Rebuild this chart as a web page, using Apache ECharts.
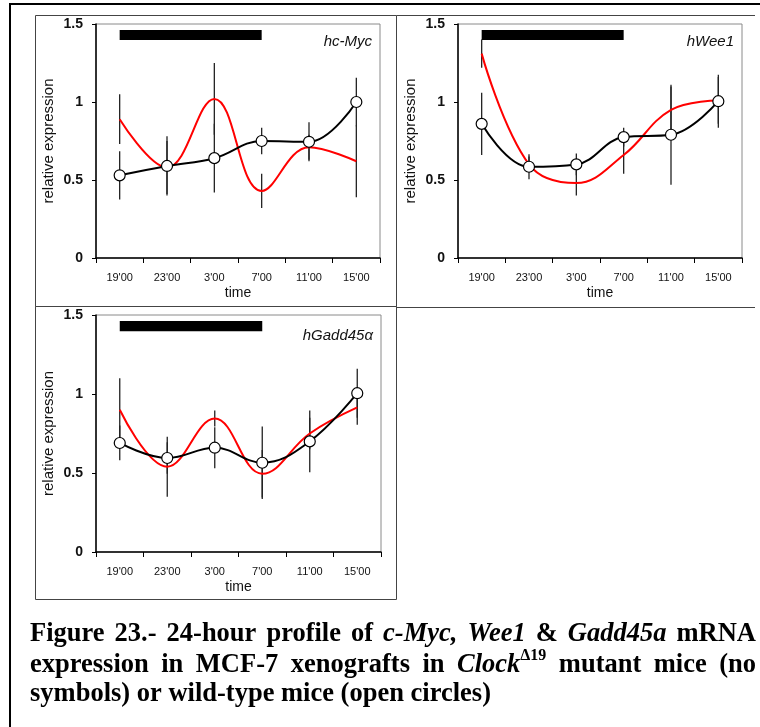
<!DOCTYPE html>
<html>
<head>
<meta charset="utf-8">
<script src="https://cdn.jsdelivr.net/npm/echarts@6/dist/echarts.min.js"></script>
<style>
html,body{margin:0;padding:0;background:#fff;}
#c{width:760px;height:727px;}
</style>
</head>
<body>
<div id="c"></div>
<script>
// ---------- data ----------
const times = ["19'00", "23'00", "3'00", "7'00", "11'00", "15'00"];
const yMin = 0, yMax = 1.5, yStep = 0.5;

// night bar: [start category index, end category index, low value, high value]
const nightBar = [0, 3, 1.397, 1.462];

// hc-Myc
const mycWT = [0.53, 0.59, 0.64, 0.75, 0.745, 1.0];
const mycWTErr = [0.155, 0.19, 0.22, 0.085, 0.125, 0.155];
const mycMut = [0.89, 0.58, 1.02, 0.43, 0.71, 0.62];
const mycMutErr = [0.16, 0.17, 0.23, 0.11, 0.08, 0.23];

// hWee1
const weeWT = [0.86, 0.585, 0.60, 0.775, 0.79, 1.005];
const weeWTErr = [0.2, 0.08, 0.07, 0.06, 0.32, 0.17];
const weeMut = [1.31, 0.60, 0.48, 0.66, 0.95, 1.01];
const weeMutErr = [0.09, 0.05, 0.08, 0.12, 0.15, 0.15];

// hGadd45a
const gaddWT = [0.69, 0.595, 0.66, 0.565, 0.70, 1.005];
const gaddWTErr = [0.11, 0.10, 0.13, 0.23, 0.195, 0.155];
const gaddMut = [0.90, 0.54, 0.845, 0.495, 0.75, 0.915];
const gaddMutErr = [0.20, 0.19, 0.05, 0.15, 0.10, 0.11];

const panelNames = ['hc-Myc', 'hWee1', 'hGadd45\u03b1'];
const yAxisName = 'relative expression';
const xAxisName = 'time';

const captionLines = [
  {justify: true, words: [
    [{t: 'Figure'}], [{t: '23.-'}], [{t: '24-hour'}], [{t: 'profile'}], [{t: 'of'}],
    [{t: 'c-Myc,', i: true}], [{t: 'Wee1', i: true}], [{t: '&'}], [{t: 'Gadd45a', i: true}], [{t: 'mRNA'}]
  ]},
  {justify: true, words: [
    [{t: 'expression'}], [{t: 'in'}], [{t: 'MCF-7'}], [{t: 'xenografts'}], [{t: 'in'}],
    [{t: 'Clock', i: true}, {t: '\u039419', sup: true}], [{t: 'mutant'}], [{t: 'mice'}], [{t: '(no'}]
  ]},
  {justify: false, words: [
    [{t: 'symbols)'}], [{t: 'or'}], [{t: 'wild-type'}], [{t: 'mice'}], [{t: '(open'}], [{t: 'circles)'}]
  ]}
];

// ---------- layout ----------
const panels = [
  {wt: mycWT, wtErr: mycWTErr, mut: mycMut, mutErr: mycMutErr, grid: {left: 96, top: 24, width: 284, height: 234}},
  {wt: weeWT, wtErr: weeWTErr, mut: weeMut, mutErr: weeMutErr, grid: {left: 458, top: 24, width: 284, height: 234}},
  {wt: gaddWT, wtErr: gaddWTErr, mut: gaddMut, mutErr: gaddMutErr, grid: {left: 96, top: 315, width: 285, height: 237}}
];

const SANS = '"Liberation Sans", Arial, sans-serif';
const SERIF = '"Liberation Serif", "Times New Roman", serif';

const grids = [], xAxes = [], yAxes = [], series = [], graphics = [];

panels.forEach((p, k) => {
  grids.push(Object.assign({
    show: true, borderColor: '#8a8a8a', borderWidth: 1, backgroundColor: 'transparent',
    containLabel: false, outerBoundsMode: 'none'
  }, p.grid));
  xAxes.push({
    type: 'category', gridIndex: k, data: times, boundaryGap: true,
    axisLine: {show: true, lineStyle: {color: '#000', width: 1.5}},
    axisTick: {show: true, length: 5, alignWithLabel: false, lineStyle: {color: '#000', width: 1}},
    axisLabel: {show: true, interval: 0, fontSize: 11, color: '#111', fontFamily: SANS, margin: 14},
    splitLine: {show: false},
    name: xAxisName, nameLocation: 'middle', nameGap: 28,
    nameTextStyle: {fontSize: 14, color: '#111', fontFamily: SANS}
  });
  yAxes.push({
    type: 'value', gridIndex: k, min: yMin, max: yMax, interval: yStep,
    axisLine: {show: true, lineStyle: {color: '#000', width: 1.5}},
    axisTick: {show: true, length: 4, lineStyle: {color: '#000', width: 1}},
    axisLabel: {show: true, fontSize: 14, fontWeight: 'bold', color: '#111', fontFamily: SANS, margin: 13},
    splitLine: {show: false},
    name: yAxisName, nameLocation: 'middle', nameGap: 40, nameRotate: 90,
    nameTextStyle: {fontSize: 15, color: '#111', fontFamily: SANS}
  });

  const errData = [];
  times.forEach((t, j) => {
    errData.push([j, p.mut[j] - p.mutErr[j], p.mut[j] + p.mutErr[j]]);
    errData.push([j, p.wt[j] - p.wtErr[j], p.wt[j] + p.wtErr[j]]);
  });
  series.push({
    type: 'custom', xAxisIndex: k, yAxisIndex: k, data: errData, silent: true,
    encode: {x: 0, y: [1, 2]},
    renderItem: function (params, api) {
      const a = api.coord([api.value(0), api.value(1)]);
      const b = api.coord([api.value(0), api.value(2)]);
      return {type: 'line', shape: {x1: a[0], y1: a[1], x2: b[0], y2: b[1]},
        style: {stroke: '#222', lineWidth: 1.3}};
    }
  });
  series.push({
    type: 'custom', xAxisIndex: k, yAxisIndex: k, data: [nightBar], silent: true,
    encode: {x: [0, 1], y: [2, 3]},
    renderItem: function (params, api) {
      const a = api.coord([api.value(0), api.value(3)]);
      const b = api.coord([api.value(1), api.value(2)]);
      return {type: 'rect', shape: {x: a[0], y: a[1], width: b[0] - a[0], height: b[1] - a[1]},
        style: {fill: '#000'}};
    }
  });
  series.push({
    type: 'line', xAxisIndex: k, yAxisIndex: k, data: p.mut, smooth: 0.4,
    showSymbol: false, symbol: 'none', lineStyle: {color: '#ff0000', width: 2}, silent: true
  });
  series.push({
    type: 'line', xAxisIndex: k, yAxisIndex: k, data: p.wt, smooth: 0.4,
    symbol: 'circle', symbolSize: 11, showSymbol: true,
    itemStyle: {color: '#fff', borderColor: '#000', borderWidth: 1.2},
    lineStyle: {color: '#000', width: 2}, silent: true
  });

  graphics.push({
    type: 'text', x: p.grid.left + p.grid.width - 8, y: p.grid.top + 18 + (k === 2 ? 3 : 0),
    style: {text: panelNames[k], font: 'italic 15px ' + SANS, fill: '#111', align: 'right', verticalAlign: 'middle'}
  });
});

// frames
graphics.push({type: 'line', shape: {x1: 10, y1: 4, x2: 760, y2: 4}, style: {stroke: '#000', lineWidth: 2}});
graphics.push({type: 'line', shape: {x1: 10, y1: 3, x2: 10, y2: 727}, style: {stroke: '#000', lineWidth: 2}});
graphics.push({type: 'rect', shape: {x: 35.5, y: 15.5, width: 361, height: 291}, style: {fill: 'none', stroke: '#444', lineWidth: 1}});
graphics.push({type: 'rect', shape: {x: 35.5, y: 306.5, width: 361, height: 293}, style: {fill: 'none', stroke: '#444', lineWidth: 1}});
graphics.push({type: 'line', shape: {x1: 396.5, y1: 15.5, x2: 755, y2: 15.5}, style: {stroke: '#444', lineWidth: 1}});
graphics.push({type: 'line', shape: {x1: 396.5, y1: 307.5, x2: 755, y2: 307.5}, style: {stroke: '#444', lineWidth: 1}});

// caption (justified words)
(function () {
  const SIZE = 26.5, SUP = 16, X0 = 30, X1 = 756;
  const lineY = [634, 665, 694];
  const ctx = document.createElement('canvas').getContext('2d');
  const fontOf = r => (r.i ? 'italic ' : '') + 'bold ' + (r.sup ? SUP : SIZE) + 'px ' + SERIF;
  const wOf = r => { ctx.font = fontOf(r); return ctx.measureText(r.t).width; };
  captionLines.forEach((line, li) => {
    const widths = line.words.map(w => w.reduce((s, r) => s + wOf(r), 0));
    const total = widths.reduce((a, b) => a + b, 0);
    const space = wOf({t: ' '});
    const gap = line.justify ? (X1 - X0 - total) / (line.words.length - 1) : space;
    let x = X0;
    line.words.forEach((w, wi) => {
      let xx = x;
      w.forEach(r => {
        graphics.push({type: 'text', x: xx, y: lineY[li] + (r.sup ? -9 : 0),
          style: {text: r.t, font: fontOf(r), fill: '#000', align: 'left', verticalAlign: 'middle'}});
        xx += wOf(r);
      });
      x += widths[wi] + gap;
    });
  });
})();

const chart = echarts.init(document.getElementById('c'), null, {renderer: 'canvas', width: 760, height: 727});
chart.setOption({
  animation: false,
  backgroundColor: '#fff',
  grid: grids, xAxis: xAxes, yAxis: yAxes, series: series,
  graphic: {elements: graphics}
});
</script>
</body>
</html>
